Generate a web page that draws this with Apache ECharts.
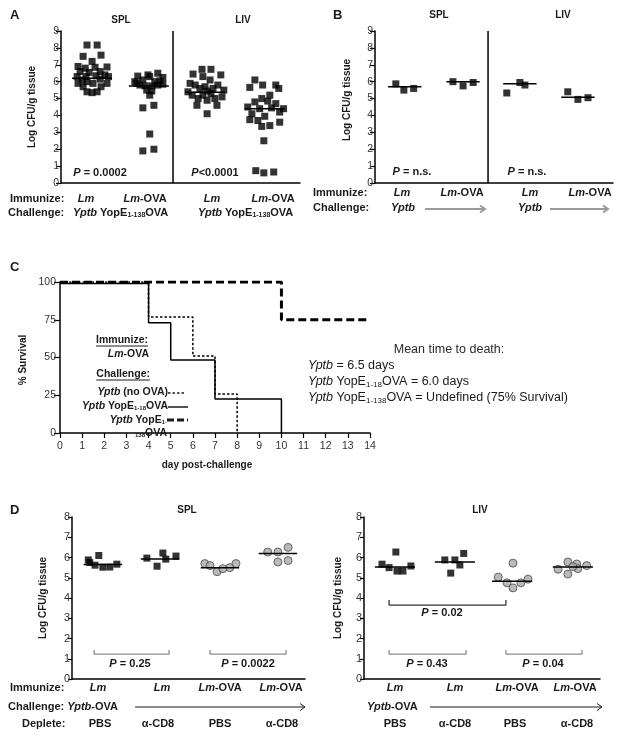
<!DOCTYPE html>
<html><head><meta charset="utf-8">
<script src="https://cdn.jsdelivr.net/npm/echarts@6/dist/echarts.min.js"></script>
<style>html,body{margin:0;padding:0;background:#fff}#c{width:624px;height:739px}</style>
</head><body><div id="c"></div>
<script>
// ================= DATA =================
// Panel A  (Log CFU/g tissue)
const aSplLm     = [8.17,8.17,7.5,7.57,7.2,6.9,6.87,6.8,6.85,6.6,6.55,6.6,6.3,6.4,6.3,6.35,6.1,6.15,5.9,6.0,5.9,5.9,5.7,5.7,5.4,5.35,5.4,6.3];
const aSplLmJit  = [-0.17,0.17,-0.3,0.3,0,-0.47,0.5,-0.23,0.1,-0.4,-0.1,0.27,-0.5,0.43,-0.2,0.13,-0.33,0.27,-0.47,-0.17,0.03,0.5,-0.3,0.3,-0.17,0,0.17,0.55];
const aSplOva    = [6.33,6.3,6.5,6.25,6.1,6.0,6.0,5.8,5.75,5.75,5.8,5.85,5.5,5.45,5.2,4.45,4.6,2.9,1.9,2.0,5.9,6.05,6.4];
const aSplOvaJit = [-0.37,0.03,0.3,0.47,-0.2,0.2,-0.47,-0.3,-0.13,0.1,0.3,0.47,-0.07,0.1,0.03,-0.2,0.17,0.03,-0.2,0.17,-0.4,0.37,-0.03];
const aLivLm     = [6.45,6.73,6.73,6.4,6.3,5.8,6.1,5.8,5.6,5.6,5.45,5.2,5.2,5.3,5.1,4.6,4.6,4.9,4.1,5.4,5.0,5.0,5.7,5.9,5.5];
const aLivLmJit  = [-0.4,-0.1,0.2,0.53,-0.07,-0.33,0.17,0.43,-0.17,0.27,0.07,-0.43,-0.07,0.2,0.57,-0.27,0.4,0.07,0.07,-0.57,-0.23,0.33,0,-0.5,0.63];
const aLivOva    = [6.1,5.66,5.8,5.8,5.6,5.2,5.0,4.8,4.85,4.7,4.5,4.4,4.45,4.4,4.1,3.95,4.2,3.7,3.4,3.6,3.75,2.5,0.73,0.6,0.65,3.35];
const aLivOvaJit = [-0.33,-0.5,-0.07,0.37,0.47,0.17,-0.1,-0.33,0.1,0.37,-0.57,-0.17,0.23,0.63,-0.43,0,0.5,-0.23,0.17,0.5,-0.5,-0.03,-0.3,-0.03,0.3,-0.1];
const aMeans     = [6.2, 5.75, 5.37, 4.4];
const aPLabels   = ['P = 0.0002', 'P<0.0001'];
const aImmunize  = ['Lm', 'Lm-OVA', 'Lm', 'Lm-OVA'];
const organs     = ['SPL', 'LIV'];

// Panel B
const bSplLm = [5.87,5.5,5.6];   const bSplLmJit = [-0.3,-0.03,0.3];
const bSplOva = [6.0,5.75,5.95]; const bSplOvaJit = [-0.34,0,0.34];
const bLivLm = [5.33,5.95,5.8];  const bLivLmJit = [-0.44,0,0.17];
const bLivOva = [5.4,4.95,5.05]; const bLivOvaJit = [-0.34,0,0.34];
const bMeans = [5.7, 6.0, 5.87, 5.08];
const bPLabels = ['P = n.s.', 'P = n.s.'];

// Panel C  (% survival by day)
const cDaysNoOva = [0, 4, 6, 7, 8];      const cSurvNoOva = [100, 76.8, 51, 25.8, 0];
const cDays118   = [0, 4, 5, 7, 10];     const cSurv118   = [99, 73, 48.3, 22.5, 0];
const cDays1138  = [0, 10, 14];          const cSurv1138  = [100, 75, 75];
const cDayTicks  = [0,1,2,3,4,5,6,7,8,9,10,11,12,13,14];
const cMeanLines = ['Mean time to death:', 'Yptb = 6.5 days', 'Yptb YopE_1-18_OVA = 6.0 days', 'Yptb YopE_1-138_OVA = Undefined (75% Survival)'];

// Panel D  (SPL)
const dSpl = [
  [5.88,5.75,5.62,6.1,5.52,5.53,5.67],
  [5.97,5.57,6.22,5.92,6.07],
  [5.7,5.6,5.3,5.45,5.5,5.7],
  [6.27,6.27,6.5,5.78,5.85]];
const dSplJit = [
  [-0.5,-0.45,-0.27,-0.14,0,0.24,0.48],
  [-0.45,-0.1,0.1,0.2,0.55],
  [-0.52,-0.34,-0.1,0.1,0.34,0.55],
  [-0.35,0,0.35,0,0.35]];
const dSplMeans = [5.65, 5.92, 5.5, 6.2];
// Panel D  (LIV)
const dLiv = [
  [5.67,5.5,6.27,5.33,5.33,5.58],
  [5.88,5.23,5.88,5.63,6.2],
  [5.03,4.75,5.72,4.5,4.75,4.93],
  [5.42,5.78,5.18,5.68,5.45,5.6,5.55]];
const dLivJit = [
  [-0.44,-0.2,0.03,0.07,0.27,0.54],
  [-0.34,-0.14,0,0.17,0.3],
  [-0.47,-0.17,0.03,0.03,0.3,0.54],
  [-0.5,-0.17,-0.17,0.13,0.17,0.47,0]];
const dLivMeans = [5.53, 5.78, 4.83, 5.53];
const dImmunize = ['Lm', 'Lm', 'Lm-OVA', 'Lm-OVA'];
const dDeplete  = ['PBS', 'α-CD8', 'PBS', 'α-CD8'];
const dSplP = ['P = 0.25', 'P = 0.0022'];
const dLivP = ['P = 0.02', 'P = 0.43', 'P = 0.04'];
// bracket spans (x in axis units, y in log units)
const dSplBrackets = [[0.76, 3.33, 1.23, 1.43], [4.74, 7.35, 1.23, 1.43]];
const dLivBrackets = [[0.85, 4.81, 3.65, 3.9], [0.85, 3.46, 1.23, 1.43], [4.81, 7.39, 1.23, 1.43]];

// ================= LAYOUT / STYLE =================
const FONT = '"Liberation Sans", Arial, Helvetica, sans-serif';
const INK = '#1a1a1a';
const aCenters = [1.04, 2.94, 4.82, 6.82];
const bCenters = [1.0, 2.96, 4.87, 6.82];
const d1Centers = [1.06, 3.02, 5.08, 7.07];
const d2Centers = [1.05, 3.08, 5.02, 7.08];

const chart = echarts.init(document.getElementById('c'), null, {renderer: 'canvas'});

function valAxisX(gi, max) {
  return {gridIndex: gi, type: 'value', min: 0, max: max,
    axisLine: {show: true, onZero: false, lineStyle: {color: '#000', width: 1.5}},
    axisTick: {show: false}, axisLabel: {show: false}, splitLine: {show: false}};
}
function valAxisY(gi, max, interval, fs, tick, margin) {
  return {gridIndex: gi, type: 'value', min: 0, max: max, interval: interval,
    axisLine: {show: true, onZero: false, lineStyle: {color: '#000', width: 1.5}},
    axisTick: {show: true, length: tick, lineStyle: {color: '#000', width: 1.2}},
    axisLabel: {show: true, fontSize: fs, color: '#333', margin: margin, fontFamily: FONT},
    splitLine: {show: false}};
}

const series = [];
function group(gi, c, vals, jit, kind) {
  series.push({type: 'scatter', xAxisIndex: gi, yAxisIndex: gi, z: 2,
    data: vals.map((v, i) => [c + jit[i], v]),
    symbol: kind === 'ci' ? 'circle' : 'rect',
    symbolSize: kind === 'ci' ? 8 : 7,
    itemStyle: kind === 'ci' ? {color: '#a9a9a9', borderColor: '#4a4a4a', borderWidth: 1} : {color: '#000'},
    silent: true});
}
function meanLine(gi, c, m, hw) {
  series.push({type: 'line', xAxisIndex: gi, yAxisIndex: gi, z: 5, symbol: 'none', silent: true,
    data: [[c - hw, m], [c + hw, m]], lineStyle: {color: '#000', width: 1.5}});
}
function vline(gi, x, y0, y1) {
  series.push({type: 'line', xAxisIndex: gi, yAxisIndex: gi, z: 5, symbol: 'none', silent: true,
    data: [[x, y0], [x, y1]], lineStyle: {color: '#000', width: 1.5}});
}
function bracket(gi, b, color) {
  series.push({type: 'line', xAxisIndex: gi, yAxisIndex: gi, z: 5, symbol: 'none', silent: true,
    data: [[b[0], b[3]], [b[0], b[2]], [b[1], b[2]], [b[1], b[3]]], lineStyle: {color: color, width: 1.3}});
}

// A
[[aSplLm, aSplLmJit], [aSplOva, aSplOvaJit], [aLivLm, aLivLmJit], [aLivOva, aLivOvaJit]].forEach((g, i) => {
  group(0, aCenters[i], g[0], g[1], 'sq'); meanLine(0, aCenters[i], aMeans[i], 0.67);
});
vline(0, 3.75, 0, 9);
// B
[[bSplLm, bSplLmJit], [bSplOva, bSplOvaJit], [bLivLm, bLivLmJit], [bLivOva, bLivOvaJit]].forEach((g, i) => {
  group(1, bCenters[i], g[0], g[1], 'sq'); meanLine(1, bCenters[i], bMeans[i], 0.56);
});
vline(1, 3.8, 0, 9);
// C
function surv(days, s, style, z) {
  series.push({type: 'line', xAxisIndex: 2, yAxisIndex: 2, step: 'end', symbol: 'none', silent: true, z: z,
    data: days.map((d, i) => [d, s[i]]), lineStyle: style});
}
surv(cDaysNoOva, cSurvNoOva, {color: '#000', width: 1.5, type: [2.5, 2]}, 3);
surv(cDays118, cSurv118, {color: '#000', width: 1.5}, 4);
surv(cDays1138, cSurv1138, {color: '#000', width: 3, type: [8, 4]}, 5);
// D
dSpl.forEach((v, i) => { group(3, d1Centers[i], v, dSplJit[i], i < 2 ? 'sq' : 'ci'); meanLine(3, d1Centers[i], dSplMeans[i], 0.66); });
dLiv.forEach((v, i) => { group(4, d2Centers[i], v, dLivJit[i], i < 2 ? 'sq' : 'ci'); meanLine(4, d2Centers[i], dLivMeans[i], 0.68); });
dSplBrackets.forEach(b => bracket(3, b, '#8a8a8a'));
dLivBrackets.forEach((b, i) => bracket(4, b, i === 0 ? '#333' : '#8a8a8a'));

const option = {
  backgroundColor: '#fff',
  animation: false,
  grid: [
    {left: 61, top: 31, width: 239, height: 152},
    {left: 375, top: 31, width: 238, height: 152},
    {left: 60, top: 282, width: 310, height: 151},
    {left: 72, top: 517, width: 233, height: 162},
    {left: 364, top: 517, width: 236, height: 162}
  ],
  xAxis: [
    valAxisX(0, 8), valAxisX(1, 8),
    {gridIndex: 2, type: 'value', min: 0, max: 14, interval: 1,
      axisLine: {show: true, onZero: false, lineStyle: {color: '#000', width: 1.5}},
      axisTick: {show: true, length: 5, lineStyle: {color: '#000', width: 1.2}},
      axisLabel: {fontSize: 10.5, color: '#333', margin: 8, fontFamily: FONT,
        formatter: v => String(cDayTicks[cDayTicks.indexOf(v)])},
      splitLine: {show: false}},
    valAxisX(3, 8), valAxisX(4, 8)
  ],
  yAxis: [
    valAxisY(0, 9, 1, 10.5, 5, 2), valAxisY(1, 9, 1, 10.5, 5, 2), valAxisY(2, 100, 25, 10.5, 6, 4),
    valAxisY(3, 8, 1, 11, 4, 2), valAxisY(4, 8, 1, 11, 4, 2)
  ],
  series: series
};
chart.setOption(option);

// ================= TEXT / ANNOTATIONS =================
function rich(fs, fw) {
  return {
    i: {fontStyle: 'italic', fontWeight: fw, fontSize: fs, fontFamily: FONT, fill: INK},
    n: {fontWeight: fw, fontSize: fs, fontFamily: FONT, fill: INK},
    s: {fontWeight: fw, fontSize: Math.round(fs * 0.6), fontFamily: FONT, fill: INK, verticalAlign: 'bottom'}
  };
}
// turn plain label into rich markup: italic organism names, _sub_ subscripts
function fmt(s) {
  let out = '';
  const re = /(Lm|Yptb|^P(?= |<))|_([^_]+)_/g;
  let last = 0, m;
  while ((m = re.exec(s))) {
    if (m.index > last) out += '{n|' + s.slice(last, m.index) + '}';
    if (m[1]) out += '{i|' + m[1] + '}'; else out += '{s|' + m[2] + '}';
    last = re.lastIndex;
  }
  if (last < s.length) out += '{n|' + s.slice(last) + '}';
  return out;
}
const G = [];
function T(x, y, s, o) {
  o = o || {};
  const fs = o.size || 11, fw = o.weight || 'bold', al = o.align || 'center';
  G.push({type: 'text', x: x, y: y, rotation: o.rot || 0, z: 100, silent: true,
    style: {text: o.raw ? s : fmt(s), fill: o.color || INK, fontFamily: FONT, fontSize: fs, fontWeight: fw,
      align: al, textAlign: al, verticalAlign: 'middle', textVerticalAlign: 'middle', rich: rich(fs, fw)}});
}
function L(x1, y1, x2, y2, stroke, w, dash) {
  G.push({type: 'line', z: 100, silent: true, shape: {x1, y1, x2, y2},
    style: {stroke: stroke, lineWidth: w, lineDash: dash || null}});
}
function arrow(x1, x2, y, stroke, w, h) {
  L(x1, y, x2, y, stroke, w);
  G.push({type: 'polyline', z: 100, silent: true, shape: {points: [[x2 - h, y - h * 0.7], [x2, y], [x2 - h, y + h * 0.7]]},
    style: {stroke: stroke, lineWidth: w, fill: null}});
}
const meas = document.createElement('canvas').getContext('2d');
function width(s, fs, fw) { meas.font = fw + ' ' + fs + 'px ' + FONT; return meas.measureText(s).width; }

// --- Panel A ---
T(10, 15, 'A', {size: 13, align: 'left', raw: true});
T(121, 20, organs[0], {size: 10, raw: true});
T(243, 20, organs[1], {size: 10, raw: true});
T(32, 107, 'Log CFU/g tissue', {size: 10, rot: Math.PI / 2, raw: true});
T(100, 173, aPLabels[0], {size: 11});
T(215, 173, aPLabels[1], {size: 11});
T(10, 199, 'Immunize:', {align: 'left', raw: true});
[86, 145, 212, 273].forEach((x, i) => T(x, 199, aImmunize[i]));
T(8, 213, 'Challenge:', {align: 'left', raw: true});
T(73, 213, 'Yptb YopE_1-138_OVA', {align: 'left'});
T(198, 213, 'Yptb YopE_1-138_OVA', {align: 'left'});

// --- Panel B ---
T(333, 15, 'B', {size: 13, align: 'left', raw: true});
T(439, 15, organs[0], {size: 10, raw: true});
T(563, 15, organs[1], {size: 10, raw: true});
T(347, 100, 'Log CFU/g tissue', {size: 10, rot: Math.PI / 2, raw: true});
T(412, 172, bPLabels[0], {size: 11});
T(527, 172, bPLabels[1], {size: 11});
T(313, 193, 'Immunize:', {align: 'left', raw: true});
[402, 462, 530, 590].forEach((x, i) => T(x, 193, aImmunize[i]));
T(313, 208, 'Challenge:', {align: 'left', raw: true});
T(403, 208, 'Yptb');
T(530, 208, 'Yptb');
arrow(425, 485, 209, '#9a9a9a', 2, 5);
arrow(550, 608, 209, '#9a9a9a', 2, 5);

// --- Panel C ---
T(10, 267, 'C', {size: 13, align: 'left', raw: true});
T(23, 360, '% Survival', {size: 10, rot: Math.PI / 2, raw: true});
T(207, 465, 'day post-challenge', {size: 10, raw: true});
T(148, 340, 'Immunize:', {align: 'right', size: 10.5, raw: true});
L(148 - width('Immunize:', 10.5, 'bold'), 346, 148, 346, INK, 1);
T(149, 354, 'Lm-OVA', {align: 'right', size: 10.5});
T(150, 374, 'Challenge:', {align: 'right', size: 10.5, raw: true});
L(150 - width('Challenge:', 10.5, 'bold'), 380, 150, 380, INK, 1);
T(168, 392, 'Yptb (no OVA)', {align: 'right', size: 10.5});
T(168, 406, 'Yptb YopE_1-18_OVA', {align: 'right', size: 10.5});
T(167, 420, 'Yptb YopE_1-_', {align: 'right', size: 10.5});
T(167, 433, '_138_OVA', {align: 'right', size: 10.5});
L(168, 393, 186, 393, INK, 1.5, [2.5, 2]);
L(168, 407, 188, 407, INK, 1.5);
L(167, 420, 188, 420, INK, 3, [7, 3]);
T(449, 350, cMeanLines[0], {align: 'center', size: 12.5, weight: 'normal', color: '#2a2a2a', raw: true});
T(308, 366, cMeanLines[1], {align: 'left', size: 12.5, weight: 'normal'});
T(308, 382, cMeanLines[2], {align: 'left', size: 12.5, weight: 'normal'});
T(308, 398, cMeanLines[3], {align: 'left', size: 12.5, weight: 'normal'});

// --- Panel D ---
T(10, 510, 'D', {size: 13, align: 'left', raw: true});
T(187, 510, organs[0], {size: 10, raw: true});
T(480, 510, organs[1], {size: 10, raw: true});
T(43, 598, 'Log CFU/g tissue', {size: 10, rot: Math.PI / 2, raw: true});
T(338, 598, 'Log CFU/g tissue', {size: 10, rot: Math.PI / 2, raw: true});
T(130, 664, dSplP[0]); T(248, 664, dSplP[1]);
T(442, 613, dLivP[0]); T(427, 664, dLivP[1]); T(543, 664, dLivP[2]);
T(10, 688, 'Immunize:', {align: 'left', raw: true});
[98, 162, 220, 281].forEach((x, i) => T(x, 688, dImmunize[i]));
[395, 455, 517, 575].forEach((x, i) => T(x, 688, dImmunize[i]));
T(8, 707, 'Challenge: Yptb-OVA', {align: 'left'});
T(367, 707, 'Yptb-OVA', {align: 'left'});
arrow(135, 305, 707, INK, 1, 5);
arrow(430, 602, 707, INK, 1, 5);
T(22, 724, 'Deplete:', {align: 'left', raw: true});
[100, 158, 220, 282].forEach((x, i) => T(x, 724, dDeplete[i], {raw: true}));
[395, 455, 515, 577].forEach((x, i) => T(x, 724, dDeplete[i], {raw: true}));

chart.setOption({graphic: {elements: G}});
</script></body></html>
